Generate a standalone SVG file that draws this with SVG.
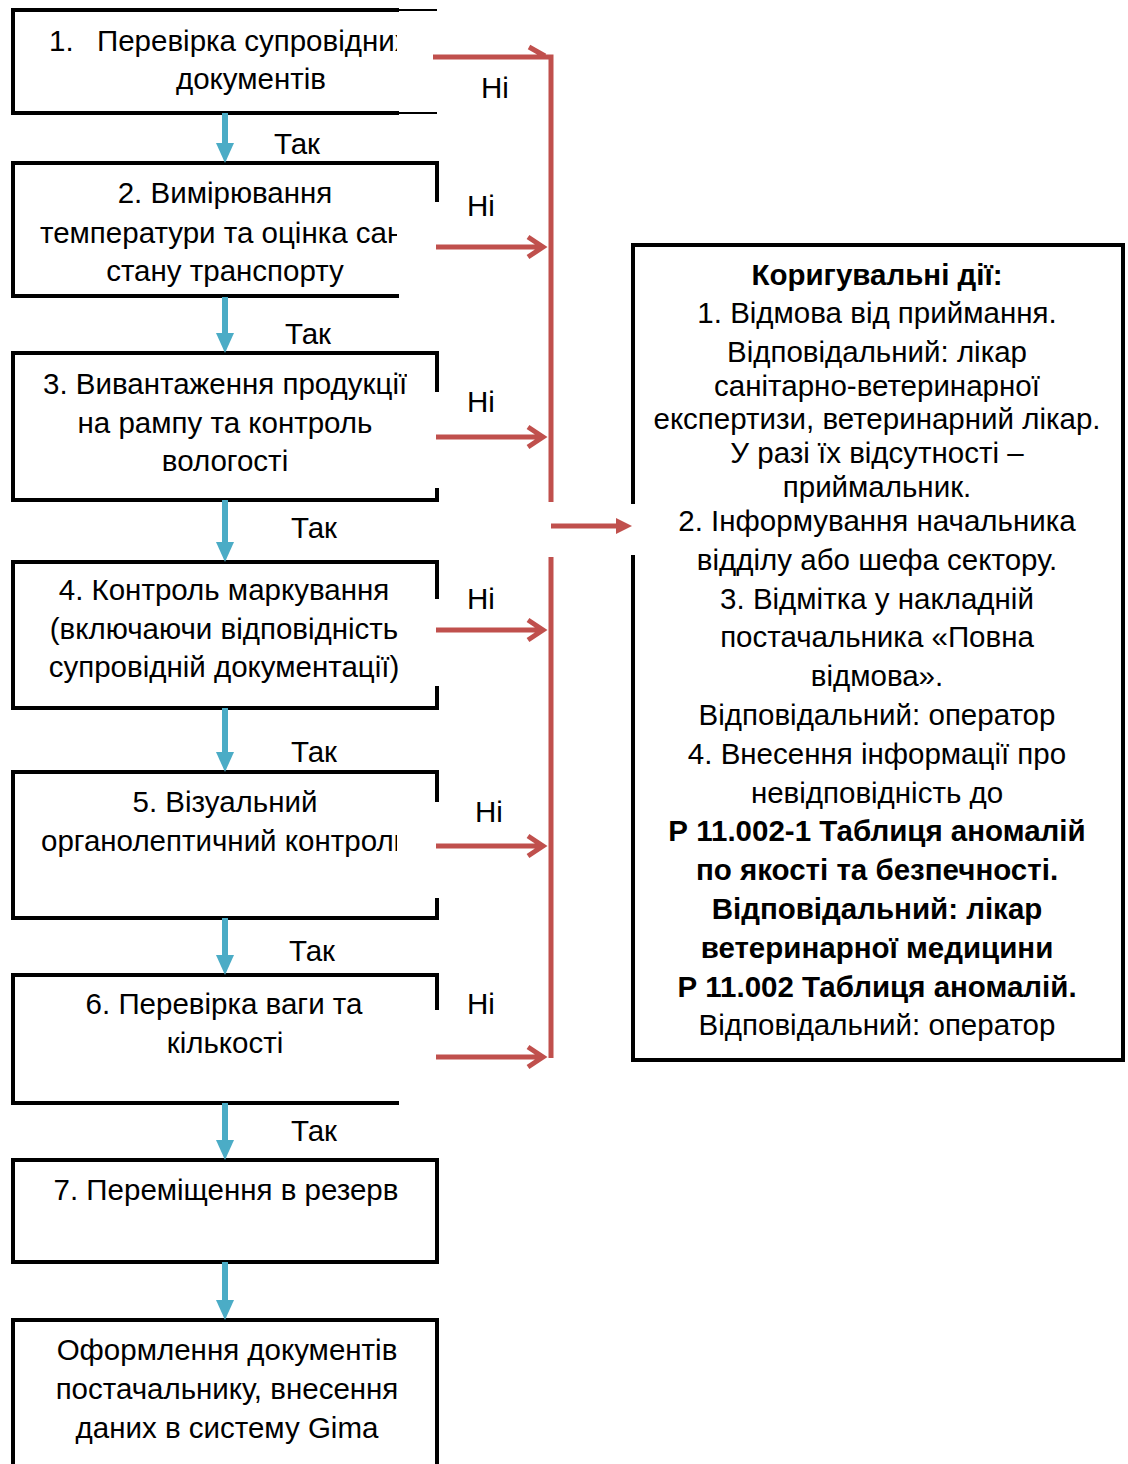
<svg xmlns="http://www.w3.org/2000/svg" width="1128" height="1464" viewBox="0 0 1128 1464">
<style>
  .t { font-family: "Liberation Sans", Arial, sans-serif; font-size: 29.5px; fill: #000; }
  .c { text-anchor: middle; }
  .b { font-weight: bold; }
  .box { fill: none; stroke: #000; stroke-width: 4; stroke-linecap: square; stroke-linejoin: miter; }
  .thin { fill: none; stroke: #000; stroke-width: 2; }
  .red { fill: none; stroke: #C0504D; stroke-width: 5; }
  .redf { fill: #C0504D; stroke: none; }
  .blue { fill: none; stroke: #4BACC6; stroke-width: 6; }
  .bluef { fill: #4BACC6; stroke: none; }
</style>
<defs>
  <clipPath id="clipL"><rect x="0" y="0" width="397" height="1464"/></clipPath>
  <clipPath id="clip3"><rect x="0" y="0" width="407" height="1464"/></clipPath>
  <clipPath id="clip2b"><rect x="0" y="0" width="397" height="294"/></clipPath>
</defs>
<rect width="1128" height="1464" fill="#fff"/>

<g id="node1">
  <path class="box" d="M397,10 H13 V113 H397"/>
  <path class="thin" d="M397,10 H437 M397,113 H437"/>
  <text class="t" clip-path="url(#clipL)" y="51"><tspan x="49">1.</tspan><tspan x="97">Перевірка супровідних</tspan></text>
  <text class="t c" x="251" y="89">документів</text>
</g>

<g id="node2">
  <path class="box" d="M397,296 H13 V163 H437 V200"/>
  <text class="t c" x="225" y="203">2. Вимірювання</text>
  <text class="t" clip-path="url(#clipL)" x="40" y="243">температури та оцінка сан</text>
  <text class="t c" clip-path="url(#clip2b)" x="225" y="281">стану транспорту</text>
</g>

<g id="node3">
  <path class="box" d="M437,390 V353 H13 V500 H437 V490"/>
  <text class="t" clip-path="url(#clip3)" x="43" y="394">3. Вивантаження продукції</text>
  <text class="t c" x="225" y="433">на рампу та контроль</text>
  <text class="t c" x="225" y="471">вологості</text>
</g>

<g id="node4">
  <path class="box" d="M437,597 V562 H13 V708 H437 V688"/>
  <text class="t c" x="224" y="600">4. Контроль маркування</text>
  <text class="t c" x="224" y="639">(включаючи відповідність</text>
  <text class="t c" x="224" y="677">супровідній документації)</text>
</g>

<g id="node5">
  <path class="box" d="M437,800 V772 H13 V918 H437 V900"/>
  <text class="t c" x="225" y="812">5. Візуальний</text>
  <text class="t" clip-path="url(#clipL)" x="41" y="851">органолептичний контролю</text>
</g>

<g id="node6">
  <path class="box" d="M437,1008 V975 H13 V1103 H397"/>
  <text class="t c" x="224" y="1014">6. Перевірка ваги та</text>
  <text class="t c" x="225" y="1053">кількості</text>
</g>

<g id="node7">
  <rect class="box" x="13" y="1160" width="424" height="102"/>
  <text class="t c" x="226" y="1200">7. Переміщення в резерв</text>
</g>

<g id="node8">
  <path class="box" d="M13,1470 V1320 H437 V1470"/>
  <text class="t c" x="227" y="1360">Оформлення документів</text>
  <text class="t c" x="227" y="1399">постачальнику, внесення</text>
  <text class="t c" x="227" y="1438">даних в систему Gima</text>
</g>

<g id="corrective">
  <path class="box" d="M633,502 V245 H1123 V1060 H633 V557"/>
  <text class="t c b" x="877" y="285">Коригувальні дії:</text>
  <text class="t c" x="877" y="323">1. Відмова від приймання.</text>
  <text class="t c" x="877" y="362">Відповідальний: лікар</text>
  <text class="t c" x="877" y="396">санітарно-ветеринарної</text>
  <text class="t c" x="877" y="429">експертизи, ветеринарний лікар.</text>
  <text class="t c" x="877" y="463">У разі їх відсутності –</text>
  <text class="t c" x="877" y="497">приймальник.</text>
  <text class="t c" x="877" y="531">2. Інформування начальника</text>
  <text class="t c" x="877" y="570">відділу або шефа сектору.</text>
  <text class="t c" x="877" y="609">3. Відмітка у накладній</text>
  <text class="t c" x="877" y="647">постачальника «Повна</text>
  <text class="t c" x="877" y="686">відмова».</text>
  <text class="t c" x="877" y="725">Відповідальний: оператор</text>
  <text class="t c" x="877" y="764">4. Внесення інформації про</text>
  <text class="t c" x="877" y="803">невідповідність до</text>
  <text class="t c b" x="877" y="841">Р 11.002-1 Таблиця аномалій</text>
  <text class="t c b" x="877" y="880">по якості та безпечності.</text>
  <text class="t c b" x="877" y="919">Відповідальний: лікар</text>
  <text class="t c b" x="877" y="958">ветеринарної медицини</text>
  <text class="t c b" x="877" y="997">Р 11.002 Таблиця аномалій.</text>
  <text class="t c" x="877" y="1035">Відповідальний: оператор</text>
</g>

<g id="connectors">
  <path class="blue" d="M225,113 V145 M225,297 V335 M225,500 V544 M225,708 V754 M225,918 V957 M225,1103 V1142 M225,1262 V1302"/>
  <polygon class="bluef" points="216,143 234,143 225,163"/>
  <polygon class="bluef" points="216,333 234,333 225,353"/>
  <polygon class="bluef" points="216,542 234,542 225,562"/>
  <polygon class="bluef" points="216,752 234,752 225,772"/>
  <polygon class="bluef" points="216,955 234,955 225,975"/>
  <polygon class="bluef" points="216,1140 234,1140 225,1160"/>
  <polygon class="bluef" points="216,1300 234,1300 225,1320"/>
  <path class="red" d="M433,57 H545 M529,47 L545,56"/>
  <path class="red" d="M436,247 H542 M528,237 L543,247 L528,257"/>
  <path class="red" d="M436,437 H542 M528,427 L543,437 L528,447"/>
  <path class="red" d="M436,630 H542 M528,620 L543,630 L528,640"/>
  <path class="red" d="M436,846 H542 M528,836 L543,846 L528,856"/>
  <path class="red" d="M436,1057 H542 M528,1047 L543,1057 L528,1067"/>
  <path class="red" d="M545,57 H551 V502 M551,557 V1058"/>
  <path class="red" d="M551,526 H618"/>
  <polygon class="redf" points="616,518 632,526 616,534"/>
  <text class="t" x="481" y="98">Ні</text>
  <text class="t" x="467" y="216">Ні</text>
  <text class="t" x="467" y="412">Ні</text>
  <text class="t" x="467" y="609">Ні</text>
  <text class="t" x="475" y="822">Ні</text>
  <text class="t" x="467" y="1014">Ні</text>
  <text class="t" x="274" y="154">Так</text>
  <text class="t" x="285" y="344">Так</text>
  <text class="t" x="291" y="538">Так</text>
  <text class="t" x="291" y="762">Так</text>
  <text class="t" x="289" y="961">Так</text>
  <text class="t" x="291" y="1141">Так</text>
</g>
</svg>
